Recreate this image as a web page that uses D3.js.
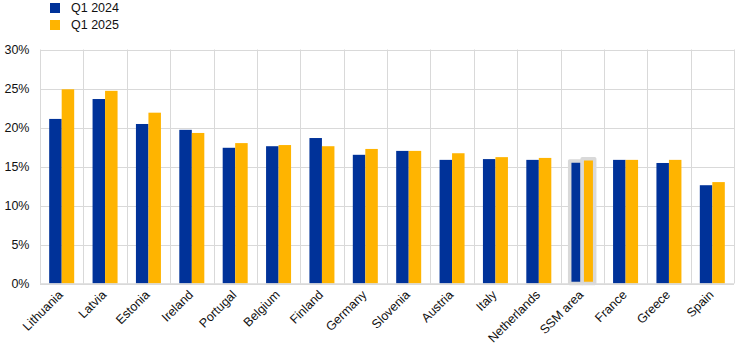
<!DOCTYPE html>
<html><head><meta charset="utf-8">
<script src="https://cdn.jsdelivr.net/npm/d3@7"></script>
<style>body{margin:0;background:#fff}svg{display:block;font-family:Arial,"Liberation Sans",sans-serif}</style>
</head><body>
<script>
const categories = ["Lithuania","Latvia","Estonia","Ireland","Portugal","Belgium","Finland","Germany","Slovenia","Austria","Italy","Netherlands","SSM area","France","Greece","Spain"];
const q12024 = [21.1,23.65,20.45,19.7,17.4,17.6,18.65,16.5,17.0,15.85,15.95,15.85,15.7,15.85,15.45,12.6];
const q12025 = [24.9,24.7,21.9,19.3,18.0,17.75,17.6,17.25,17.0,16.7,16.2,16.1,16.0,15.85,15.85,13.0];
const seriesNames = ["Q1 2024","Q1 2025"];
const yTicks = [0,5,10,15,20,25,30];
const highlight = "SSM area";

const W=747,H=357, L=40, R=734, T=49.5, B=283.5;
const colors=["#003299","#ffb400"];
const svg=d3.select("body").append("svg").attr("width",W).attr("height",H);
const x=d3.scaleBand().domain(categories).range([L,R]).padding(0);
const y=d3.scaleLinear().domain([0,30]).range([B,T]);
const grid="#d9d9d9";
const fs=12.5;

// gridlines
svg.append("g").selectAll("line.h").data(yTicks).join("line")
  .attr("x1",L).attr("x2",R).attr("y1",d=>Math.round(y(d))+0.5).attr("y2",d=>Math.round(y(d))+0.5)
  .attr("stroke",grid).attr("stroke-width",1);
const bounds=categories.map(c=>x(c)).concat([R]);
svg.append("g").selectAll("line.v").data(bounds).join("line")
  .attr("x1",d=>Math.round(d)+0.5).attr("x2",d=>Math.round(d)+0.5).attr("y1",T).attr("y2",B)
  .attr("stroke",grid).attr("stroke-width",1);

// y labels
svg.append("g").selectAll("text").data(yTicks).join("text")
  .attr("x",29.5).attr("y",d=>y(d)).attr("dy","0.35em").attr("text-anchor","end")
  .attr("font-size",fs).attr("fill","#111").text(d=>d+"%");

// bars
const bw=12.5;
const data=[];
categories.forEach((c,i)=>{[q12024[i],q12025[i]].forEach((v,s)=>data.push({c,v,s}));});
const xs=d=>x(d.c)+x.bandwidth()/2+(d.s===0?-bw:0);
svg.append("g").selectAll("rect").data(data).join("rect")
  .attr("x",xs).attr("width",bw)
  .attr("y",d=>y(d.v)).attr("height",d=>B-y(d.v))
  .attr("fill",d=>colors[d.s])
  .attr("stroke",d=>d.c===highlight?grid:"none")
  .attr("stroke-width",d=>d.c===highlight?3.5:0)
  .attr("stroke-linejoin","round");

// axis line
svg.append("line").attr("x1",L).attr("x2",R).attr("y1",B+0.5).attr("y2",B+0.5).attr("stroke",grid).attr("stroke-width",1.5);

// x labels
svg.append("g").selectAll("text").data(categories).join("text")
  .attr("transform",d=>`translate(${x(d)+x.bandwidth()/2+2},${B+12}) rotate(-45)`)
  .attr("text-anchor","end").attr("font-size",fs).attr("fill","#111").text(d=>d);

// legend
const lg=svg.append("g");
seriesNames.forEach((n,i)=>{
  lg.append("rect").attr("x",50).attr("y",3+i*17).attr("width",10).attr("height",10).attr("fill",colors[i]);
  lg.append("text").attr("x",71).attr("y",8+i*17).attr("dy","0.35em").attr("font-size",fs).attr("fill","#111").text(n);
});
</script>
</body></html>
